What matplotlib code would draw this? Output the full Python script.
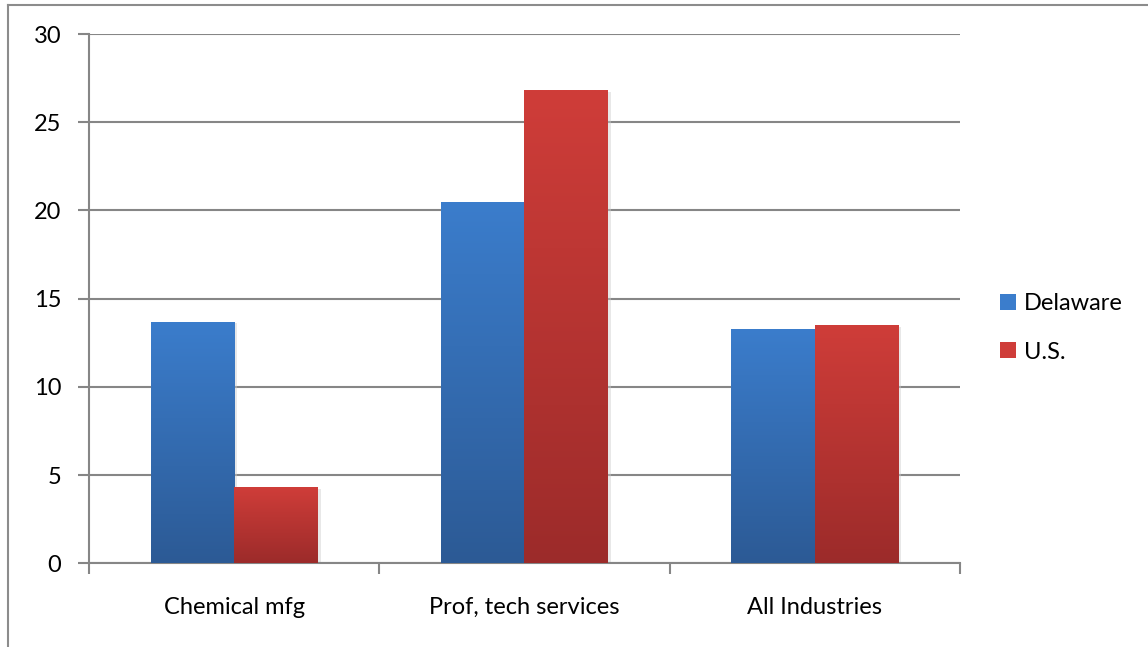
import matplotlib.pyplot as plt
import numpy as np
from matplotlib.patches import Patch
from matplotlib.lines import Line2D
from matplotlib.colors import LinearSegmentedColormap

categories = ['Chemical mfg', 'Prof, tech services', 'All Industries']
delaware = [13.7, 20.5, 13.3]
us = [4.3, 26.8, 13.5]
yticks = [0, 5, 10, 15, 20, 25, 30]

plt.rcParams['font.family'] = ['Lato', 'DejaVu Sans']

blue_top, blue_bottom = '#3b7dcc', '#2c5a95'
red_top, red_bottom = '#cf3d39', '#9c2b2a'
grid_col = '#868686'

fig = plt.figure(figsize=(11.48, 6.47), dpi=100)
ax = fig.add_axes([0.0775, 0.1294, 0.7587, 0.818])

x = np.arange(len(categories))
w = 0.288


def gradient_bars(xs, vals, top, bottom, label):
    bars = ax.bar(xs, vals, width=w, color=top, edgecolor='none', label=label, zorder=3)
    cmap = LinearSegmentedColormap.from_list('g', [bottom, top])
    grad = np.linspace(0, 1, 256).reshape(-1, 1)
    for b in bars:
        x0, y0 = b.get_x(), b.get_y()
        # soft shadow to the right of each bar
        ax.bar(x0 + b.get_width() / 2 + 0.01, b.get_height(), width=w, bottom=y0 - 0.1,
               color='#cccccc', alpha=0.45, edgecolor='none', zorder=2)
        im = ax.imshow(grad, cmap=cmap, origin='lower', aspect='auto',
                       extent=[x0, x0 + b.get_width(), y0, y0 + b.get_height()], zorder=3)
        im.set_clip_path(b)
    return bars


gradient_bars(x - w / 2, delaware, blue_top, blue_bottom, 'Delaware')
gradient_bars(x + w / 2, us, red_top, red_bottom, 'U.S.')

ax.set_xlim(-0.5, len(categories) - 0.5)
ax.set_ylim(0, 30)
ax.set_yticks(yticks)
ax.set_yticklabels([str(t) for t in yticks], fontsize=17)
ax.set_xticks(x)
ax.set_xticklabels(categories, fontsize=17)
ax.tick_params(axis='x', length=0, pad=24)
ax.set_xticks(np.arange(len(categories) + 1) - 0.5, minor=True)
ax.tick_params(axis='x', which='minor', length=8, width=1.5, color=grid_col, direction='out')
ax.tick_params(axis='y', length=8, width=1.5, color=grid_col, pad=12)

ax.yaxis.grid(True, color=grid_col, linewidth=1.5, zorder=1)
ax.set_axisbelow(True)
for s in ['top', 'right']:
    ax.spines[s].set_visible(False)
for s in ['left', 'bottom']:
    ax.spines[s].set_color(grid_col)
    ax.spines[s].set_linewidth(1.5)

handles = [Patch(facecolor=blue_top, edgecolor='none'), Patch(facecolor=red_top, edgecolor='none')]
fig.legend(handles, ['Delaware', 'U.S.'], loc='center left', bbox_to_anchor=(0.863, 0.493),
           frameon=False, fontsize=17, handlelength=0.65, handleheight=0.65,
           handletextpad=0.35, labelspacing=1.15, borderaxespad=0.0)

# outer chart border (left and top edges)
fig.add_artist(Line2D([0.007, 0.007], [0, 0.992], color='#8c8c8c', linewidth=1.5))
fig.add_artist(Line2D([0.007, 1], [0.992, 0.992], color='#8c8c8c', linewidth=1.5))

fig.savefig('out.png', dpi=100)
